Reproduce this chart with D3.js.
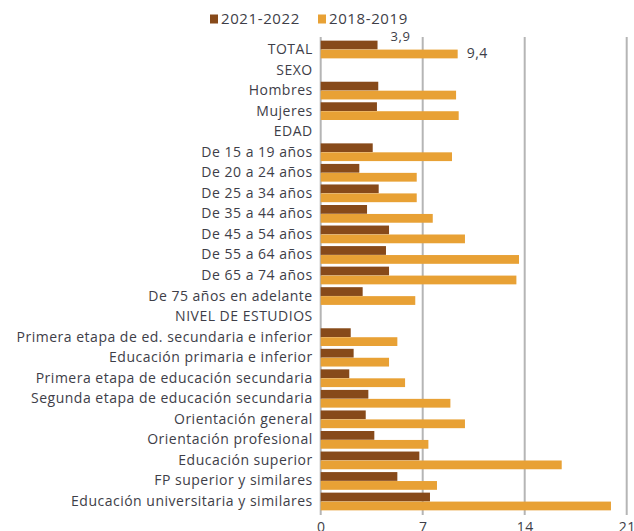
<!DOCTYPE html>
<html>
<head>
<meta charset="utf-8">
<script src="https://cdn.jsdelivr.net/npm/d3@7"></script>
<style>
  html, body { margin: 0; padding: 0; background: #fff; }
  svg { display: block; }
  text { font-family: "Open Sans", sans-serif; fill: #3e3e48; }
</style>
</head>
<body>
<div id="chart"></div>
<script>
// Row labels, top to bottom (section headers have no bars)
const categories = [
  "TOTAL", "SEXO", "Hombres", "Mujeres", "EDAD",
  "De 15 a 19 años", "De 20 a 24 años", "De 25 a 34 años", "De 35 a 44 años",
  "De 45 a 54 años", "De 55 a 64 años", "De 65 a 74 años", "De 75 años en adelante",
  "NIVEL DE ESTUDIOS",
  "Primera etapa de ed. secundaria e inferior", "Educación primaria e inferior",
  "Primera etapa de educación secundaria", "Segunda etapa de educación secundaria",
  "Orientación general", "Orientación profesional", "Educación superior",
  "FP superior y similares", "Educación universitaria y similares"
];

const seriesNames = ["2021-2022", "2018-2019"];

// null = header row without bars
const values2021 = [
  3.9, null, 3.95, 3.86, null,
  3.57, 2.65, 3.98, 3.18, 4.69, 4.48, 4.69, 2.88,
  null,
  2.06, 2.26, 1.96, 3.27, 3.09, 3.68, 6.77, 5.26, 7.5
];
const values2018 = [
  9.4, null, 9.29, 9.47, null,
  9.01, 6.59, 6.59, 7.69, 9.9, 13.61, 13.43, 6.49,
  null,
  5.26, 4.69, 5.79, 8.9, 9.9, 7.39, 16.54, 7.98, 19.92
];

const xTicks = [0, 7, 14, 21];

// Values printed next to the TOTAL bars
const labelledRow = "TOTAL";

const width = 634, height = 531;
const colors = { "2021-2022": "#874a1a", "2018-2019": "#e8a135" };
const textColor = "#3e3e48";

const rows = categories.map((c, i) => ({
  category: c,
  "2021-2022": values2021[i],
  "2018-2019": values2018[i]
}));

const svg = d3.select("#chart").append("svg")
  .attr("width", width).attr("height", height);

const x = d3.scaleLinear().domain([0, 21]).range([320.7, 626.7]);
const y = d3.scaleBand().domain(categories).range([38, 513]).padding(0.12);
const ySub = d3.scaleBand().domain(seriesNames).range([0, y.bandwidth()]).padding(0.02);

// vertical gridlines
svg.append("g").selectAll("line")
  .data(xTicks)
  .join("line")
  .attr("x1", d => x(d)).attr("x2", d => x(d))
  .attr("y1", 37).attr("y2", 515)
  .attr("stroke", "#b5b5b5")
  .attr("stroke-width", 2);

// bars
const groups = svg.append("g").selectAll("g")
  .data(rows)
  .join("g")
  .attr("transform", d => `translate(0,${y(d.category)})`);

groups.selectAll("rect")
  .data(d => seriesNames.filter(s => d[s] != null).map(s => ({ key: s, value: d[s] })))
  .join("rect")
  .attr("x", x(0))
  .attr("y", d => ySub(d.key))
  .attr("width", d => x(d.value) - x(0))
  .attr("height", ySub.bandwidth())
  .attr("fill", d => colors[d.key]);

// value labels on the TOTAL row
const fmt = v => d3.format(".1f")(v).replace(".", ",");
const tIdx = categories.indexOf(labelledRow);
svg.append("text")
  .attr("x", x(values2021[tIdx]) + 23)
  .attr("y", y(labelledRow) + ySub("2021-2022") + 0.5)
  .attr("text-anchor", "middle")
  .attr("font-size", 13)
  .style("letter-spacing", "0.6px")
  .text(fmt(values2021[tIdx]));
svg.append("text")
  .attr("x", x(values2018[tIdx]) + 9)
  .attr("y", y(labelledRow) + ySub("2018-2019") + ySub.bandwidth() / 2 - 1)
  .attr("dy", "0.35em")
  .attr("font-size", 14)
  .style("letter-spacing", "0.5px")
  .text(fmt(values2018[tIdx]));

// category axis
const yAxis = svg.append("g")
  .attr("transform", `translate(${x(0)},0)`)
  .call(d3.axisLeft(y).tickSize(0).tickPadding(8));
yAxis.select(".domain").remove();
yAxis.selectAll("text")
  .attr("font-size", 14)
  .style("letter-spacing", "0.5px")
  .style("font-family", "'Open Sans', sans-serif")
  .attr("fill", textColor);

// value axis
const xAxis = svg.append("g")
  .attr("transform", `translate(0,515)`)
  .call(d3.axisBottom(x).tickValues(xTicks).tickSize(0).tickPadding(7).tickFormat(d3.format("d")));
xAxis.select(".domain").remove();
xAxis.selectAll("text")
  .attr("font-size", 14)
  .style("letter-spacing", "0.5px")
  .style("font-family", "'Open Sans', sans-serif")
  .attr("fill", textColor);

// legend
const legend = svg.append("g").attr("transform", "translate(210,19)");
seriesNames.forEach((s, i) => {
  const g = legend.append("g").attr("transform", `translate(${i === 0 ? 0 : 108},0)`);
  g.append("rect").attr("x", 0).attr("y", -4.5).attr("width", 8).attr("height", 9).attr("fill", colors[s]);
  g.append("text").attr("x", 11).attr("y", 0).attr("dy", "0.35em")
    .attr("font-size", 15)
    .style("letter-spacing", "0.6px")
    .text(s);
});
</script>
</body>
</html>
